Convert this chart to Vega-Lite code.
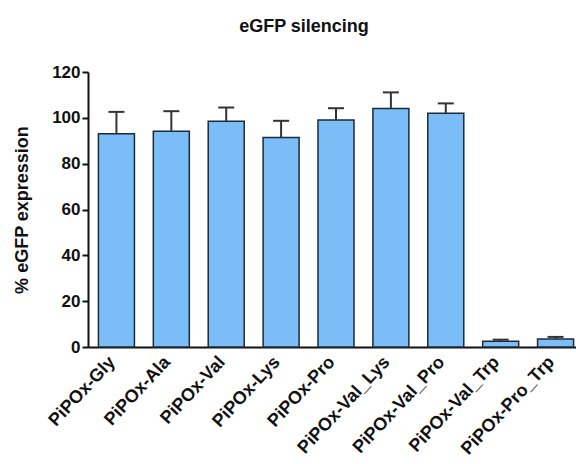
{
  "$schema": "https://vega.github.io/schema/vega-lite/v6.json",
  "autosize": {"type": "none"},
  "width": 488,
  "height": 275,
  "padding": {"left": 88, "top": 72, "right": 0, "bottom": 117},
  "background": "white",
  "title": {
    "text": "eGFP silencing",
    "font": "Liberation Sans",
    "fontSize": 18,
    "fontWeight": "bold",
    "color": "#111",
    "anchor": "middle",
    "dx": -28,
    "offset": 27
  },
  "data": {
    "values": [
      {"name": "PiPOx-Gly", "value": 93.1, "upper": 102.6},
      {"name": "PiPOx-Ala", "value": 94.1, "upper": 102.9},
      {"name": "PiPOx-Val", "value": 98.5, "upper": 104.5},
      {"name": "PiPOx-Lys", "value": 91.4, "upper": 98.7},
      {"name": "PiPOx-Pro", "value": 99.1, "upper": 104.2},
      {"name": "PiPOx-Val_Lys", "value": 104.1, "upper": 111.1},
      {"name": "PiPOx-Val_Pro", "value": 102.0, "upper": 106.3},
      {"name": "PiPOx-Val_Trp", "value": 2.5, "upper": 3.2},
      {"name": "PiPOx-Pro_Trp", "value": 3.5, "upper": 4.4}
    ]
  },
  "encoding": {
    "x": {
      "field": "name",
      "type": "nominal",
      "sort": null,
      "scale": {"range": [0, 496], "paddingInner": 0.344, "paddingOuter": 0.19},
      "axis": {
        "title": null,
        "labelAngle": -47,
        "labelAlign": "right",
        "labelBaseline": "middle",
        "labelFont": "Liberation Sans",
        "labelFontSize": 18,
        "labelFontWeight": "bold",
        "labelColor": "#111",
        "labelPadding": 12,
        "labelOffset": -4,
        "ticks": false,
        "domainColor": "#111",
        "domainWidth": 2,
        "grid": false
      }
    }
  },
  "layer": [
    {
      "mark": {"type": "bar", "fill": "#7BBDF6", "stroke": "#1c2b3a", "strokeWidth": 1.5},
      "encoding": {
        "y": {
          "field": "value",
          "type": "quantitative",
          "scale": {"domain": [0, 120]},
          "axis": {
            "title": "% eGFP expression",
            "titleFont": "Liberation Sans",
            "titleFontSize": 18,
            "titleFontWeight": "bold",
            "titleColor": "#111",
            "titlePadding": 20,
            "values": [0, 20, 40, 60, 80, 100, 120],
            "labelFont": "Liberation Sans",
            "labelFontSize": 17,
            "labelFontWeight": "bold",
            "labelColor": "#111",
            "labelPadding": 2,
            "tickColor": "#111",
            "tickWidth": 2,
            "tickSize": 6,
            "domainColor": "#111",
            "domainWidth": 2,
            "grid": false
          }
        }
      }
    },
    {
      "mark": {"type": "rule", "stroke": "#333", "strokeWidth": 2},
      "encoding": {
        "y": {"field": "value", "type": "quantitative"},
        "y2": {"field": "upper"}
      }
    },
    {
      "mark": {"type": "tick", "color": "#333", "size": 16, "thickness": 2, "opacity": 1},
      "encoding": {
        "y": {"field": "upper", "type": "quantitative"}
      }
    }
  ],
  "config": {"view": {"stroke": null}}
}
